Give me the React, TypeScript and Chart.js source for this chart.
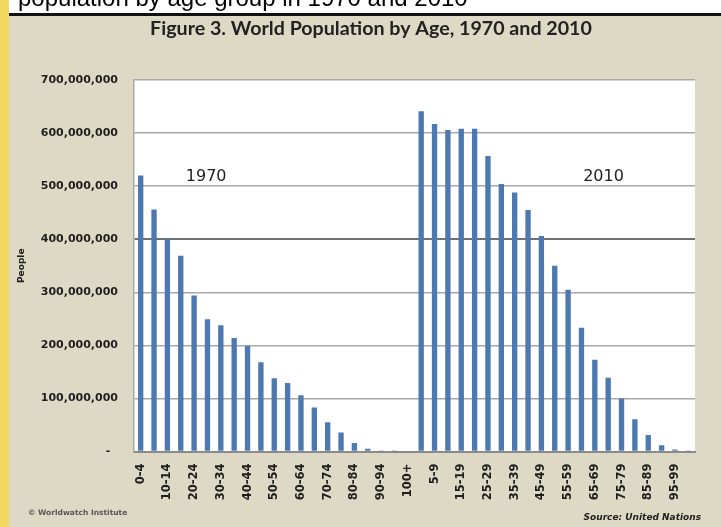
import { useEffect, useRef } from 'react';
import { Chart, registerables } from 'chart.js';

Chart.register(...registerables);

// Five-year age groups, repeated once for each census year
const ageGroups = [
  '0-4', '5-9', '10-14', '15-19', '20-24', '25-29', '30-34', '35-39', '40-44', '45-49',
  '50-54', '55-59', '60-64', '65-69', '70-74', '75-79', '80-84', '85-89', '90-94', '95-99', '100+',
];

// People per age group
const population1970 = [
  520e6, 456e6, 400e6, 369e6, 294e6, 249e6, 238e6, 214e6, 199e6, 168e6,
  138e6, 129e6, 106e6, 83e6, 55e6, 36e6, 16e6, 5e6, 1e6, 0.2e6, 0,
];
const population2010 = [
  641e6, 617e6, 606e6, 608e6, 608e6, 557e6, 504e6, 488e6, 455e6, 406e6,
  350e6, 305e6, 233e6, 173e6, 139e6, 100e6, 61e6, 31e6, 12e6, 4e6, 0.5e6,
];

const years = ['1970', '2010'];

const yMax = 700e6;
const yStep = 100e6;

const titleText = 'Figure 3. World Population by Age, 1970 and 2010';
const captionText = 'population by age group in 1970 and 2010';
const creditText = '\u00A9 Worldwatch Institute';
const sourceText = 'Source: United Nations';

const labels = [...ageGroups, ...ageGroups];
const values = [...population1970, ...population2010];

const BG = '#ddd9c4';
const BAR = '#4d78b0';

const decorations = {
  id: 'decorations',
  beforeDraw(chart: any) {
    const { ctx, width, height, chartArea: a } = chart;
    ctx.save();
    ctx.fillStyle = BG;
    ctx.fillRect(0, 0, width, height);
    // strip of the page above the figure
    ctx.fillStyle = '#ffffff';
    ctx.fillRect(0, 0, width, 14);
    ctx.save();
    ctx.beginPath();
    ctx.rect(0, 0, width, 13);
    ctx.clip();
    ctx.fillStyle = '#000';
    ctx.font = '24px "Liberation Sans"';
    ctx.textBaseline = 'alphabetic';
    ctx.textAlign = 'left';
    ctx.fillText(captionText, 18, 6);
    ctx.restore();
    ctx.fillStyle = '#111';
    ctx.fillRect(0, 13, width, 3);
    ctx.fillStyle = '#f3d862';
    ctx.fillRect(0, 0, 9, height);
    // plot area
    ctx.fillStyle = '#ffffff';
    ctx.fillRect(a.left, a.top, a.right - a.left, a.bottom - a.top);
    ctx.restore();
  },
  afterDraw(chart: any) {
    const { ctx, scales } = chart;
    ctx.save();
    // title, fitted to its line
    ctx.fillStyle = '#222';
    ctx.textAlign = 'center';
    ctx.textBaseline = 'middle';
    ctx.font = 'bold 16px Lato';
    const w = ctx.measureText(titleText).width;
    const size = (16 * 442) / w;
    ctx.font = `bold ${size.toFixed(2)}px Lato`;
    ctx.fillText(titleText, 371, 29);

    // year captions inside the plot
    ctx.font = '16px "DejaVu Sans"';
    ctx.fillStyle = '#222';
    const spots = [4.9, 34.65];
    years.forEach((yr, i) => {
      ctx.fillText(yr, scales.x.getPixelForValue(spots[i]), scales.y.getPixelForValue(518e6));
    });

    // footer
    ctx.textBaseline = 'middle';
    ctx.textAlign = 'left';
    ctx.fillStyle = '#555';
    ctx.font = 'bold 7.5px "DejaVu Sans"';
    ctx.fillText(creditText, 28, 513);
    ctx.textAlign = 'right';
    ctx.fillStyle = '#222';
    ctx.font = 'italic bold 9px "DejaVu Sans"';
    ctx.fillText(sourceText, 701, 518);
    ctx.restore();
  },
};

export default function App() {
  const ref = useRef<HTMLCanvasElement>(null);

  useEffect(() => {
    document.body.style.margin = '0';
    document.body.style.overflow = 'hidden';
    const canvas = ref.current;
    if (!canvas) return;
    const chart = new Chart(canvas, {
      type: 'bar',
      data: {
        labels,
        datasets: [
          {
            data: values,
            backgroundColor: BAR,
            borderWidth: 0,
            barPercentage: 0.4,
            categoryPercentage: 1,
          },
        ],
      },
      options: {
        animation: false,
        responsive: false,
        devicePixelRatio: 1,
        layout: { padding: { left: 0, top: 80, right: 26, bottom: 0 } },
        plugins: {
          legend: { display: false },
          tooltip: { enabled: false },
          title: { display: false },
        },
        scales: {
          x: {
            afterFit: (s: any) => {
              s.height = 75.5;
            },
            grid: { display: false, drawTicks: false },
            border: { display: true, color: '#8a8a8a', width: 2 },
            ticks: {
              autoSkip: false,
              minRotation: 90,
              maxRotation: 90,
              padding: 12,
              color: '#1e1e1e',
              font: { family: '"DejaVu Sans"', size: 11.5, weight: 'bold' },
              callback: (_v: any, i: number) => (i % 2 === 0 ? labels[i] : ''),
            },
          },
          y: {
            min: 0,
            max: yMax,
            afterFit: (s: any) => {
              s.width = 134;
            },
            grid: {
              drawTicks: false,
              color: (c: any) => (c.tick && c.tick.value === 400e6 ? '#707070' : '#a8a8a8'),
              lineWidth: (c: any) => (c.tick && c.tick.value === 400e6 ? 2 : 1.5),
            },
            border: { display: true, color: '#a8a8a8', width: 1.5 },
            ticks: {
              stepSize: yStep,
              padding: 16,
              color: '#1e1e1e',
              font: { family: '"DejaVu Sans"', size: 11, weight: 'bold' },
              callback: (v: any) => (v === 0 ? '-  ' : Number(v).toLocaleString('en-US')),
            },
            title: {
              display: true,
              text: 'People',
              color: '#1e1e1e',
              font: { family: '"DejaVu Sans"', size: 9, weight: 'bold' },
              padding: { top: 16, bottom: 0 },
            },
          },
        },
      },
      plugins: [decorations],
    });
    return () => chart.destroy();
  }, []);

  return (
    <div style={{ width: 721, height: 527, position: 'relative' }}>
      <canvas ref={ref} width={721} height={527} style={{ display: 'block', width: 721, height: 527 }} />
    </div>
  );
}
